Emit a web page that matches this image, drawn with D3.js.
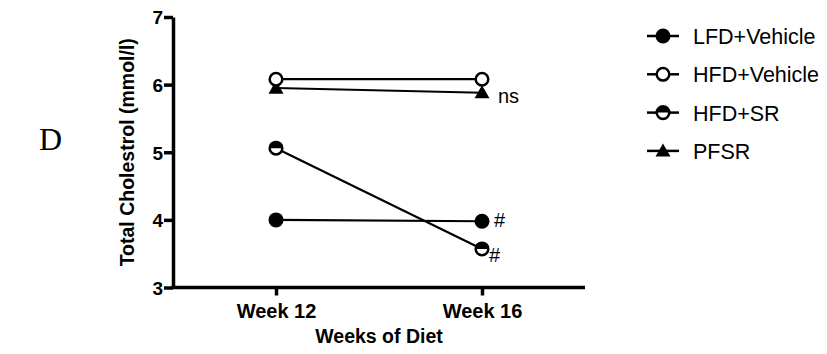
<!DOCTYPE html>
<html><head><meta charset="utf-8">
<script src="https://cdn.jsdelivr.net/npm/d3@7"></script>
<style>body{margin:0;background:#fff}</style>
</head><body>
<svg id="c" width="827" height="354"></svg>
<script>
const weeks = ["Week 12", "Week 16"];
const seriesNames = ["LFD+Vehicle", "HFD+Vehicle", "HFD+SR", "PFSR"];
const lfdVehicle = [4.0, 3.98];
const hfdVehicle = [6.08, 6.08];
const hfdSR = [5.06, 3.57];
const pfsr = [5.95, 5.88];
const yTicks = [3, 4, 5, 6, 7];
const annotations = [
  {text: "ns", series: "PFSR"},
  {text: "#", series: "LFD+Vehicle"},
  {text: "#", series: "HFD+SR"}
];

const series = [
  {name: seriesNames[0], values: lfdVehicle, marker: "filled"},
  {name: seriesNames[1], values: hfdVehicle, marker: "open"},
  {name: seriesNames[2], values: hfdSR, marker: "half"},
  {name: seriesNames[3], values: pfsr, marker: "triangle"}
];

const svg = d3.select("#c");
const font = "'Liberation Sans', Arial, Helvetica, sans-serif";

const x = d3.scalePoint().domain(weeks).range([276, 482]);
const y = d3.scaleLinear().domain([3, 7]).range([287.5, 17]);
const xAxisLeft = 173, xAxisRight = 585;

// y axis
const gy = svg.append("g").attr("transform", `translate(${xAxisLeft},0)`)
  .call(d3.axisLeft(y).tickValues(yTicks).tickFormat(d3.format("d")).tickSize(9).tickSizeOuter(0));
gy.select(".domain").style("stroke", "#000").style("stroke-width", "3.5px");
gy.selectAll(".tick line").style("stroke", "#000").style("stroke-width", "3.5px");
gy.selectAll(".tick text").style("font-family", font).style("font-weight", "bold")
  .style("font-size", "19px").style("fill", "#000").attr("x", -10).attr("dy", "0.36em");

// x axis
const gx = svg.append("g").attr("transform", `translate(0,${y(3)})`);
gx.append("line").attr("x1", xAxisLeft - 1.75).attr("x2", xAxisRight).attr("y1", 0).attr("y2", 0)
  .style("stroke", "#000").style("stroke-width", "3.5px");
const xa = d3.axisBottom(x).tickSize(8).tickSizeOuter(0);
const gx2 = gx.append("g").call(xa);
gx2.select(".domain").remove();
gx2.selectAll(".tick line").style("stroke", "#000").style("stroke-width", "3.5px");
gx2.selectAll(".tick text").style("font-family", font).style("font-weight", "bold")
  .style("font-size", "20px").style("fill", "#000").attr("y", 30.5).attr("dy", 0);

// axis titles
svg.append("text").attr("transform", `translate(134,${(17 + 287.5) / 2}) rotate(-90)`)
  .attr("text-anchor", "middle").style("font-family", font).style("font-weight", "bold")
  .style("font-size", "19.5px").text("Total Cholestrol (mmol/l)");
svg.append("text").attr("x", 379).attr("y", 343).attr("text-anchor", "middle")
  .style("font-family", font).style("font-weight", "bold").style("font-size", "19.5px").text("Weeks of Diet");

// panel letter
svg.append("text").attr("x", 39).attr("y", 150).style("font-family", "'Liberation Serif', 'Times New Roman', serif")
  .style("font-size", "32px").text("D");

function drawMarker(g, type, cx, cy) {
  const r = 6.3;
  if (type === "filled") {
    g.append("circle").attr("cx", cx).attr("cy", cy).attr("r", r + 1.2).style("fill", "#000");
  } else if (type === "open") {
    g.append("circle").attr("cx", cx).attr("cy", cy).attr("r", r).style("fill", "#fff")
      .style("stroke", "#000").style("stroke-width", "2.5px");
  } else if (type === "half") {
    g.append("circle").attr("cx", cx).attr("cy", cy).attr("r", r).style("fill", "#fff")
      .style("stroke", "#000").style("stroke-width", "2.5px");
    const arc = d3.arc().innerRadius(0).outerRadius(r)
      .startAngle(-Math.PI / 2).endAngle(Math.PI / 2);
    g.append("path").attr("d", arc()).attr("transform", `translate(${cx},${cy})`).style("fill", "#000");
  } else if (type === "triangle") {
    const s = 7.5;
    g.append("path").attr("d", `M${cx},${cy - s}L${cx + s},${cy + s * 0.75}L${cx - s},${cy + s * 0.75}Z`)
      .style("fill", "#000");
  }
}

const line = d3.line().x((d, i) => x(weeks[i])).y(d => y(d));
const plot = svg.append("g");
series.forEach(s => {
  plot.append("path").attr("d", line(s.values)).style("fill", "none")
    .style("stroke", "#000").style("stroke-width", "2.2px");
});
const order = [series[3], series[0], series[2], series[1]];
order.forEach(s => {
  s.values.forEach((v, i) => drawMarker(plot, s.marker, x(weeks[i]), y(v)));
});

// annotations
const annOffsets = {"PFSR": [16, 10], "LFD+Vehicle": [12, 6], "HFD+SR": [7, 13]};
annotations.forEach(a => {
  const s = series.find(d => d.name === a.series);
  const o = annOffsets[a.series];
  svg.append("text").attr("x", x(weeks[1]) + o[0]).attr("y", y(s.values[1]) + o[1])
    .style("font-family", font).style("font-size", "20px").style("fill", "#000").text(a.text);
});

// legend
const lg = svg.append("g");
series.forEach((s, i) => {
  const yy = 36 + i * 38.3;
  lg.append("line").attr("x1", 647).attr("x2", 679).attr("y1", yy).attr("y2", yy)
    .style("stroke", "#000").style("stroke-width", "2.5px");
  drawMarker(lg, s.marker, 663, yy);
  lg.append("text").attr("x", 693).attr("y", yy + 8).style("font-family", font)
    .style("font-size", "21.5px").style("fill", "#000").text(s.name);
});
</script>
</body></html>
